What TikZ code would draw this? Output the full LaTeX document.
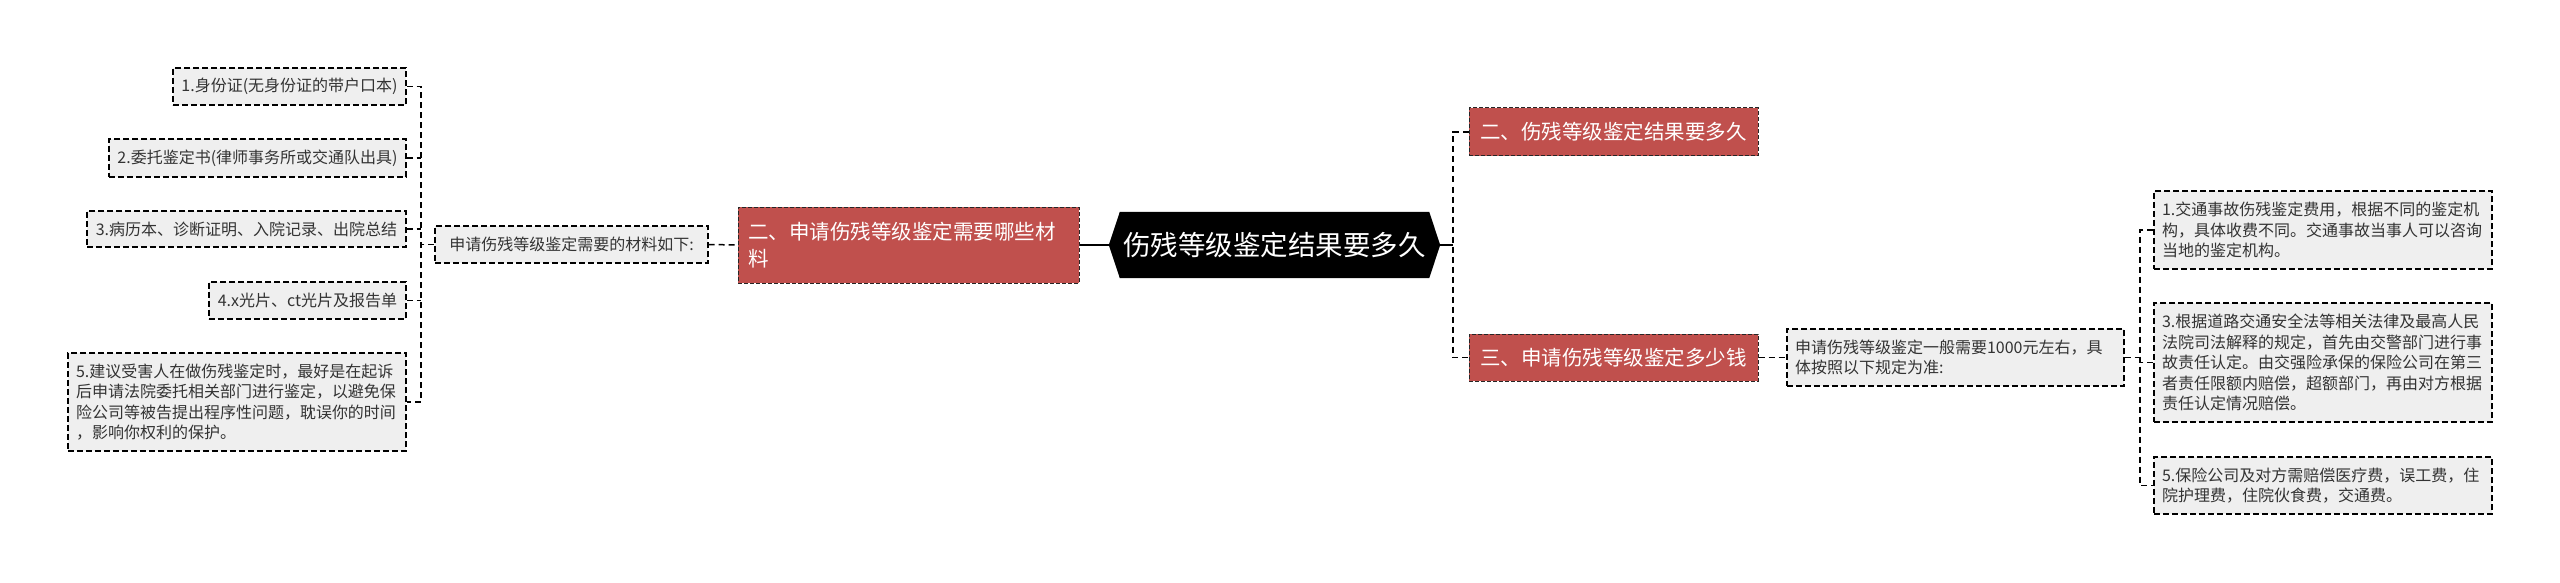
\documentclass[tikz,border=0pt]{standalone}
\usepackage{fontspec}
\setmainfont{Noto Sans CJK SC}
\usetikzlibrary{backgrounds}
\definecolor{redfill}{RGB}{192,80,77}
\definecolor{grayfill}{RGB}{239,239,239}
\definecolor{textgray}{RGB}{51,51,51}
\begin{document}
\begin{tikzpicture}[x=1pt,y=-1pt,
  graybox/.style={draw=black, dash pattern=on 6pt off 3pt, line width=1.3pt,
    fill=grayfill, text=textgray, font=\fontsize{16}{20.5}\selectfont,
    inner xsep=8pt, inner ysep=0pt, anchor=center},
  graymulti/.style={graybox, align=left},
  redbox/.style={draw=black!85, dash pattern=on 4pt off 2pt, line width=1pt,
    fill=redfill, text=white, font=\fontsize{20.5}{27}\selectfont,
    inner xsep=10pt, inner ysep=0pt, anchor=center},
  rootbox/.style={text=white, font=\fontsize{27.5}{32}\selectfont,
    inner sep=0pt, anchor=center},
  conn/.style={draw=black, dash pattern=on 6pt off 4pt, line width=1.5pt},
  solidconn/.style={draw=black, line width=1.8pt}
]
\useasboundingbox (0,0) rectangle (2560,583);

% root
\node[rootbox, minimum width=331pt, minimum height=66pt] (root) at (1274.5,245) {伤残等级鉴定结果要多久};
\begin{pgfonlayer}{background}
\fill[white] (0,0) rectangle (2560,583);
\fill[black] (root.west) -- ([xshift=11pt]root.north west) -- ([xshift=-11pt]root.north east)
  -- (root.east) -- ([xshift=-11pt]root.south east) -- ([xshift=11pt]root.south west) -- cycle;
\end{pgfonlayer}

% left branch
\node[redbox, align=left, text width=321pt, minimum height=76pt] (L1) at (908.5,245)
  {二、申请伤残等级鉴定需要哪些材\\料};
\node[graybox, minimum width=273pt, minimum height=37pt] (L1c) at (571.5,244.5)
  {申请伤残等级鉴定需要的材料如下:};

\node[graybox, minimum width=233pt, minimum height=37pt] (LL1) at (289.5,86.5)
  {1.身份证(无身份证的带户口本)};
\node[graybox, minimum width=297pt, minimum height=38pt] (LL2) at (257.5,158)
  {2.委托鉴定书(律师事务所或交通队出具)};
\node[graybox, minimum width=319pt, minimum height=36pt] (LL3) at (246.5,229)
  {3.病历本、诊断证明、入院记录、出院总结};
\node[graybox, minimum width=197pt, minimum height=37pt] (LL4) at (307.5,300.5)
  {4.x光片、ct光片及报告单};
\node[graymulti, text width=322pt, minimum height=98pt] (LL5) at (237,402)
  {5.建议受害人在做伤残鉴定时，最好是在起诉\\后申请法院委托相关部门进行鉴定，以避免保\\险公司等被告提出程序性问题，耽误你的时间\\，影响你权利的保护。};

\coordinate (busL) at (421,244.5);

% right branch
\node[redbox, minimum width=289pt, minimum height=48pt] (R1) at (1613.5,132)
  {二、伤残等级鉴定结果要多久};
\node[redbox, minimum width=289pt, minimum height=47pt] (R2) at (1613.5,357.5)
  {三、申请伤残等级鉴定多少钱};
\node[graymulti, text width=321pt, minimum height=57pt] (R2c) at (1955.5,357.5)
  {申请伤残等级鉴定一般需要1000元左右，具\\体按照以下规定为准:};

\node[graymulti, text width=322pt, minimum height=78pt] (RL1) at (2323,230)
  {1.交通事故伤残鉴定费用，根据不同的鉴定机\\构，具体收费不同。交通事故当事人可以咨询\\当地的鉴定机构。};
\node[graymulti, text width=322pt, minimum height=119pt] (RL3) at (2323,362.5)
  {3.根据道路交通安全法等相关法律及最高人民\\法院司法解释的规定，首先由交警部门进行事\\故责任认定。由交强险承保的保险公司在第三\\者责任限额内赔偿，超额部门，再由对方根据\\责任认定情况赔偿。};
\node[graymulti, text width=322pt, minimum height=57pt] (RL5) at (2323,485.5)
  {5.保险公司及对方需赔偿医疗费，误工费，住\\院护理费，住院伙食费，交通费。};

\coordinate (busA) at (1453,245);
\coordinate (busR) at (2140,357.5);

% connectors
\draw[solidconn] (L1.east) -- (root.west);
\draw[solidconn] (root.east) -- (busA);
\draw[conn] (R1.west) -| (busA) |- (R2.west);
\draw[conn] (L1c.east) -- (L1.west);
\draw[conn] (L1c.west) -- (busL);
\draw[conn] (LL1.east) -| (busL) |- (LL5.east);
\draw[conn] (LL2.east) -- (LL2.east -| busL);
\draw[conn] (LL3.east) -- (LL3.east -| busL);
\draw[conn] (LL4.east) -- (LL4.east -| busL);
\draw[conn] (R2.east) -- (R2c.west);
\draw[conn] (R2c.east) -- (busR);
\draw[conn] (RL1.west) -| (busR) |- (RL5.west);
\draw[conn] (RL3.west) -- (RL3.west -| busR);
\end{tikzpicture}
\end{document}
